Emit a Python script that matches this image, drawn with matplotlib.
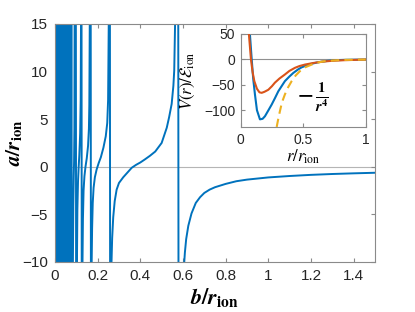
import matplotlib.pyplot as plt
import numpy as np

plt.rcParams['font.family'] = ['Liberation Sans', 'DejaVu Sans']
plt.rcParams['mathtext.fontset'] = 'stix'
plt.rcParams['path.simplify'] = False

# main panel: scattering length a(b)
# poles in the dense part near b = 0 (curve runs off-scale at each one)
dense_poles = [0.001, 0.002, 0.003, 0.004, 0.005, 0.006, 0.007, 0.008, 0.009, 0.0105,
               0.012, 0.0135, 0.015, 0.0165, 0.018, 0.0195, 0.021, 0.023, 0.025,
               0.027, 0.029, 0.031, 0.033, 0.035, 0.037, 0.039, 0.041, 0.043, 0.045,
               0.047, 0.049, 0.051, 0.053, 0.055, 0.057, 0.059, 0.061, 0.063, 0.065,
               0.067, 0.069, 0.0715, 0.078]
off_scale = 200

bF = [0.084, 0.086, 0.088, 0.0895, 0.091, 0.092, 0.0965]
aF = [-10, -4, -1, 0.5, 4, 15, 50]
bE = [0.1005, 0.103, 0.105, 0.108, 0.111, 0.114, 0.118, 0.1205, 0.122, 0.1235]
aE = [-50, -10, -4.5, -1.5, 0, 1.2, 3.5, 7, 15, 50]
bD = [0.1265, 0.129, 0.131, 0.134, 0.138, 0.143, 0.149, 0.155, 0.159, 0.161, 0.163, 0.1665]
aD = [-50, -10, -5.5, -2.5, -1, 0, 0.9, 2.2, 4, 6.5, 15, 50]
bC = [0.1695, 0.172, 0.174, 0.177, 0.181, 0.187, 0.195, 0.205, 0.215, 0.227,
      0.238, 0.245, 0.249, 0.252, 0.2565]
aC = [-50, -10, -6.5, -3.8, -2.2, -1.1, -0.3, 0.4, 1.0, 2.0, 3.2, 4.6, 7, 15, 50]
bB = [0.2595, 0.265, 0.268, 0.273, 0.28, 0.289, 0.30, 0.32, 0.34, 0.36, 0.38, 0.40,
      0.42, 0.445, 0.47, 0.50, 0.524, 0.535, 0.547, 0.555, 0.559, 0.563, 0.5765]
aB = [-50, -10, -7.5, -5.3, -3.6, -2.4, -1.7, -1.1, -0.6, -0.1, 0.2, 0.45, 0.75,
      1.15, 1.6, 2.5, 4.1, 5.2, 6.6, 8.5, 10.1, 15, 50]
bA = [0.5805, 0.606, 0.609, 0.615, 0.625, 0.64, 0.66, 0.68, 0.70, 0.725, 0.75, 0.8,
      0.85, 0.9, 1.0, 1.1, 1.2, 1.3, 1.4, 1.5]
aA = [-50, -10, -9, -7.6, -6.2, -4.9, -3.8, -3.2, -2.75, -2.4, -2.15, -1.8, -1.52,
      -1.35, -1.12, -0.97, -0.85, -0.76, -0.69, -0.63]

# inset: potentials
r_blue = [0.065, 0.074, 0.088, 0.10, 0.114, 0.13, 0.154, 0.175, 0.194, 0.22, 0.248,
          0.275, 0.301, 0.33, 0.354, 0.39, 0.421, 0.46, 0.488, 0.55, 0.62, 0.69,
          0.754, 0.85, 1.0]
V_blue = [70, 48, 0, -38, -69, -100, -118, -117, -112, -101, -89, -76, -63, -52,
          -43, -34, -27, -20, -16, -10, -6, -3.5, -2, -1.2, -0.7]
r_orange = [0.058, 0.066, 0.082, 0.095, 0.109, 0.13, 0.15, 0.168, 0.19, 0.221, 0.25,
            0.274, 0.31, 0.354, 0.39, 0.434, 0.47, 0.514, 0.58, 0.648, 0.73, 0.83, 1.0]
V_orange = [70, 48, 0, -25, -43, -58, -65, -66, -64, -60, -53, -46, -38, -30, -23,
            -17, -13.5, -10.6, -7.5, -5, -3.2, -2, -0.7]
r_dash = [0.288, 0.30, 0.314, 0.33, 0.354, 0.38, 0.408, 0.44, 0.474, 0.52, 0.568,
          0.62, 0.67, 0.75, 0.83, 0.92, 1.0]
V_dash = [-133, -118, -102, -85, -69, -55, -43, -32, -23.5, -15.5, -10.6, -6.5,
          -4, -2.4, -1.4, -1.0, -0.7]

blue = '#0072BD'
orange = '#D95319'
yellow = '#EDB120'
axcol = '#8a8a8a'
txtcol = '#262626'

# assemble the main curve
b_all = []
a_all = []
for p in dense_poles:
    b_all += [p - 0.0002, p + 0.0002]
    a_all += [off_scale, -off_scale]
for bb, aa in [(bF, aF), (bE, aE), (bD, aD), (bC, aC), (bB, aB), (bA, aA)]:
    b_all += bb
    a_all += aa
b_all = np.array(b_all)
a_all = np.array(a_all)

fig = plt.figure(figsize=(4.15, 3.12), dpi=100)
ax = fig.add_axes([0.1325, 0.1603, 0.771, 0.763])
ax.axhline(0, color='#b5b5b5', lw=0.8, zorder=1)
ax.plot(b_all, a_all, color=blue, lw=1.4, zorder=2)
ax.set_xlim(0, 1.5)
ax.set_ylim(-10, 15)
ax.set_xticks([0, 0.2, 0.4, 0.6, 0.8, 1, 1.2, 1.4])
ax.set_xticklabels(['0', '0.2', '0.4', '0.6', '0.8', '1', '1.2', '1.4'])
ax.set_yticks([-10, -5, 0, 5, 10, 15])
ax.tick_params(direction='in', length=3, width=0.8, color=axcol, labelcolor=txtcol,
               labelsize=11, top=True, right=True, pad=5)
for s in ax.spines.values():
    s.set_color(axcol)
    s.set_linewidth(0.8)
ax.set_xlabel(r'$\boldsymbol{b/r}_{\mathbf{ion}}$', fontsize=16, labelpad=2)
ax.set_ylabel(r'$\boldsymbol{a/r}_{\mathbf{ion}}$', fontsize=15, labelpad=-2)

# inset
ins = fig.add_axes([0.580, 0.593, 0.301, 0.299])
ins.axhline(0, color='#909090', lw=0.8, zorder=1)
ins.plot(r_blue, V_blue, color=blue, lw=1.5, zorder=2)
ins.plot(r_orange, V_orange, color=orange, lw=1.5, zorder=3)
ins.plot(r_dash, V_dash, color=yellow, lw=1.5, ls=(0, (4, 2.5)), zorder=4)
ins.set_xlim(0, 1)
ins.set_ylim(-133, 50)
ins.set_xticks([0, 0.5, 1])
ins.set_xticklabels(['0', '0.5', '1'])
ins.set_yticks([-100, -50, 0, 50])
ins.tick_params(direction='in', length=3, width=0.8, color=axcol, labelcolor=txtcol,
                labelsize=10, top=True, right=True, pad=4)
for s in ins.spines.values():
    s.set_color(axcol)
    s.set_linewidth(0.8)
ins.set_xlabel(r'$r/r_{\mathrm{ion}}$', fontsize=12, labelpad=1)
ins.set_ylabel(r'$V(r)/\mathcal{E}_{\mathrm{ion}}$', fontsize=12, labelpad=5)
ins.text(0.45, -76, r'$\boldsymbol{-}\,\frac{\mathbf{1}}{\boldsymbol{r}^{\mathbf{4}}}$',
         fontsize=15, va='center', ha='left', color='black')

fig.savefig('out.png', dpi=100)
